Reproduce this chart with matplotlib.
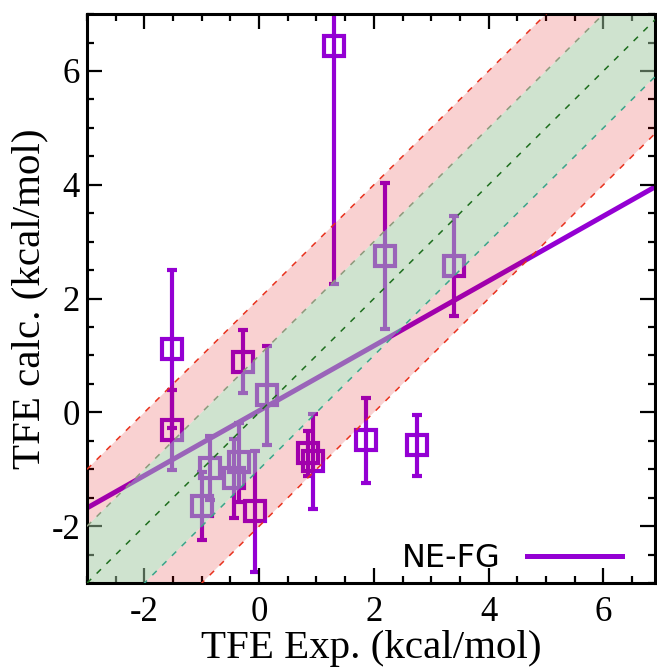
import numpy as np
import matplotlib
matplotlib.use('Agg')
import matplotlib.pyplot as plt
from matplotlib.ticker import MultipleLocator

plt.rcParams['axes.unicode_minus'] = False

# TFE data (kcal/mol)
tfe_exp = [-1.51, -1.51, -0.28, 0.14, -0.85, -1.00, -0.35, -0.43,
           -0.07, 0.86, 0.94, 1.87, 2.75, 3.40, 2.19, 1.31]
tfe_calc = [1.12, -0.31, 0.89, 0.30, -0.98, -1.65, -0.88, -1.16,
            -1.74, -0.72, -0.86, -0.49, -0.58, 2.58, 2.75, 6.44]
tfe_err = [1.39, 0.71, 0.55, 0.87, 0.56, 0.60, 0.70, 0.70,
           1.07, 0.40, 0.83, 0.75, 0.54, 0.88, 1.29, 4.18]

fit_slope = 0.57
fit_intercept = 0.03
label = 'NE-FG'

purple = '#9400d3'

fig = plt.figure(figsize=(6.57, 6.71), dpi=100)
ax = fig.add_axes([0.1324, 0.131, 0.8646, 0.848])

xmin, xmax = -3, 6.9
ymin, ymax = -3, 7

# data + fit sit under the translucent bands
ax.errorbar(tfe_exp, tfe_calc, yerr=tfe_err, fmt='s', color=purple,
            mfc='none', mec=purple, ms=14, mew=3, elinewidth=3,
            capsize=3.5, capthick=3, zorder=1)
xf = np.array([xmin - 1, xmax + 1])
ax.plot(xf, fit_slope * xf + fit_intercept, color=purple, lw=3.6,
        zorder=1, label=label)

xb = np.array([xmin - 2, xmax + 2])
ax.fill_between(xb, xb + 1, xb + 2, color='#e00000', alpha=0.18, lw=0, zorder=2)
ax.fill_between(xb, xb - 2, xb - 1, color='#e00000', alpha=0.18, lw=0, zorder=2)
ax.fill_between(xb, xb - 1, xb + 1, color='#a1c8a1', alpha=0.5, lw=0, zorder=2)

dash = (0, (4, 5))
ax.plot(xb, xb, color='#1e6e1e', lw=1.1, ls=dash, zorder=3)
ax.plot(xb, xb + 1, color='#8c9a7c', lw=1.1, ls=dash, zorder=3)
ax.plot(xb, xb - 1, color='#3aa58a', lw=1.1, ls=dash, zorder=3)
ax.plot(xb, xb + 2, color='#e8321e', lw=1.1, ls=dash, zorder=3)
ax.plot(xb, xb - 2, color='#e8321e', lw=1.1, ls=dash, zorder=3)

ax.set_xlim(xmin, xmax)
ax.set_ylim(ymin, ymax)

ax.xaxis.set_major_locator(MultipleLocator(2))
ax.yaxis.set_major_locator(MultipleLocator(2))
ax.xaxis.set_minor_locator(MultipleLocator(0.5))
ax.yaxis.set_minor_locator(MultipleLocator(0.5))
ax.tick_params(which='both', direction='in', top=True, right=True, width=1.6)
ax.tick_params(which='major', length=10.5)
ax.tick_params(which='minor', length=5)
for sp in ax.spines.values():
    sp.set_linewidth(2.2)

serif = 'Liberation Serif'
for t in ax.get_xticklabels() + ax.get_yticklabels():
    t.set_fontfamily(serif)
    t.set_fontsize(25)
ax.tick_params(axis='x', pad=9)
ax.tick_params(axis='y', pad=5)

ax.set_xlabel('TFE Exp. (kcal/mol)', fontfamily=serif, fontsize=29.5, labelpad=1)
ax.set_ylabel('TFE calc. (kcal/mol)', fontfamily=serif, fontsize=29.5, labelpad=2)

leg = ax.legend(loc='lower right', bbox_to_anchor=(0.982, -0.023),
                frameon=False, markerfirst=False,
                fontsize=23, handlelength=3, borderaxespad=0.3)
for line in leg.get_lines():
    line.set_linewidth(3.6)

fig.savefig('out.png', dpi=100)
